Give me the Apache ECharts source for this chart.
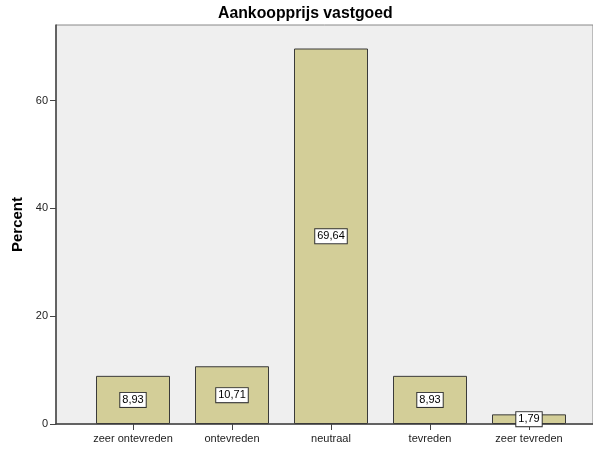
<!DOCTYPE html>
<html>
<head>
<meta charset="utf-8">
<script src="https://cdn.jsdelivr.net/npm/echarts@6/dist/echarts.min.js"></script>
<style>
html,body{margin:0;padding:0;background:#fff;}
#c{width:593px;height:453px;}
</style>
</head>
<body>
<div id="c"></div>
<script>
var categories = ['zeer ontevreden', 'ontevreden', 'neutraal', 'tevreden', 'zeer tevreden'];
var percentValues = [8.93, 10.71, 69.64, 8.93, 1.79];
var yTicks = [0, 20, 40, 60];
var titleText = 'Aankoopprijs vastgoed';
var yName = 'Percent';

var FONT = '"Liberation Sans", Arial, sans-serif';
var chart = echarts.init(document.getElementById('c'), null, {renderer: 'canvas'});
chart.setOption({
  animation: false,
  backgroundColor: '#ffffff',
  title: {
    text: titleText,
    left: 218,
    top: 6,
    padding: 0,
    textStyle: {fontFamily: FONT, fontSize: 15.8, fontWeight: 'bold', color: '#000'}
  },
  grid: [
    {left: 56, right: -5, top: 25, bottom: 29, show: true, backgroundColor: '#efefef', borderColor: '#888', borderWidth: 1},
    {left: 83.5, right: 14.5, top: 25, bottom: 29}
  ],
  xAxis: [
    {type: 'value', gridIndex: 0, min: 0, max: 1, show: true,
     axisLine: {show: true, onZero: false, lineStyle: {color: '#444', width: 1.5}},
     axisTick: {show: false}, axisLabel: {show: false}, splitLine: {show: false}},
    {type: 'category', gridIndex: 1, data: categories,
     axisLine: {show: false},
     axisTick: {show: true, alignWithLabel: true, length: 6, interval: 0, lineStyle: {color: '#444'}},
     axisLabel: {fontFamily: FONT, fontSize: 11, color: '#222', margin: 9, interval: 0}}
  ],
  yAxis: [
    {type: 'value', gridIndex: 0, min: 0, max: 74,
     name: yName, nameLocation: 'middle', nameGap: 25,
     nameTextStyle: {fontFamily: FONT, fontSize: 15, fontWeight: 'bold', color: '#000'},
     axisLine: {show: true, lineStyle: {color: '#444', width: 1.5}},
     axisTick: {show: true, length: 6, customValues: yTicks, lineStyle: {color: '#444'}},
     axisLabel: {fontFamily: FONT, fontSize: 11, color: '#222', margin: 8, customValues: yTicks},
     splitLine: {show: false}},
    {type: 'value', gridIndex: 1, min: 0, max: 74, show: false}
  ],
  series: [{
    type: 'bar',
    xAxisIndex: 1,
    yAxisIndex: 1,
    data: percentValues,
    barWidth: 74,
    itemStyle: {color: '#d3ce98', borderColor: '#3a3a3a', borderWidth: 1},
    label: {
      show: true,
      position: 'inside',
      fontFamily: FONT,
      fontSize: 11,
      color: '#000',
      backgroundColor: '#fff',
      borderColor: '#333',
      borderWidth: 1,
      padding: [2, 2, 1, 2],
      formatter: function (p) { return p.value.toFixed(2).replace('.', ','); }
    }
  }]
});
</script>
</body>
</html>
